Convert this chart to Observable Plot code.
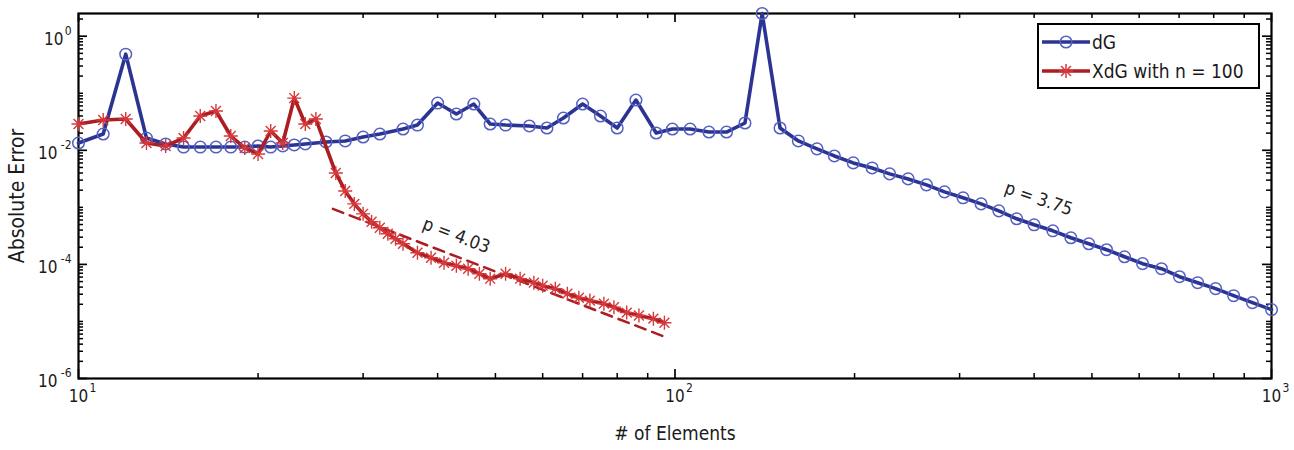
<!DOCTYPE html>
<html><head><meta charset="utf-8">
<script src="https://cdn.jsdelivr.net/npm/d3@7"></script>
<script src="https://cdn.jsdelivr.net/npm/@observablehq/plot@0.6"></script>
<style>
html,body{margin:0;padding:0;background:#fff;}
#chart{position:relative;width:1294px;height:450px;}
</style></head><body><div id="chart"></div>
<script>
// ---- data ----
const dgX = [10,11,12,13,14,15,16,17,18,19,20,21,22,23,24,26,28,30,32,35,37,40,43,46,49,52,57,61,65,70,75,80,86,93,99,106,114,122,131,140,150,161,173,185,199,214,229,246,264,283,304,326,349,374,400,430,461,494,529,567,608,654,701,752,806,864,929,1000];
const dgY = [0.0134,0.0193,0.484,0.0164,0.0129,0.0114,0.0114,0.0114,0.0114,0.0114,0.0119,0.0114,0.0119,0.0124,0.0129,0.014,0.0146,0.0171,0.0193,0.0236,0.0277,0.0673,0.0432,0.0647,0.0289,0.0277,0.0267,0.0246,0.0368,0.0647,0.0399,0.0246,0.076,0.0201,0.0236,0.0236,0.0209,0.0209,0.0301,2.5,0.0246,0.0146,0.0106,0.00796,0.00601,0.00491,0.00386,0.00315,0.00248,0.00187,0.00147,0.00115,0.000869,0.00063,0.000494,0.000388,0.000293,0.00023,0.000181,0.000136,0.000103,0.000084,0.0000608,0.0000478,0.0000376,0.0000283,0.0000214,0.0000161];
const xdgX = [10,11,12,13,14,15,16,17,18,19,20,21,22,23,24,25,27,28,29,30,31,32,33,34,35,37,39,41,43,45,47,49,52,55,58,60,63,66,69,72,76,79,83,87,92,96];
const xdgY = [0.0289,0.034,0.0353,0.0134,0.0119,0.0164,0.0399,0.0488,0.0178,0.011,0.0086,0.0218,0.0134,0.0823,0.0289,0.0353,0.0040,0.00194,0.00115,0.00077,0.00056,0.00044,0.000344,0.000281,0.00023,0.00016,0.000131,0.000107,0.0000948,0.000084,0.0000687,0.0000562,0.0000687,0.0000562,0.0000479,0.0000424,0.0000376,0.0000307,0.0000261,0.0000232,0.0000205,0.0000178,0.0000143,0.0000127,0.0000112,0.0000095];
const fitX = [26.7, 96];
const fitY = [9.4e-4, 5.4e-6];
const xMajor = [10, 100, 1000];
const xExp = ["1", "2", "3"];
const xMinor = [20,30,40,50,60,70,80,90,200,300,400,500,600,700,800,900];
const yMajor = [1e-6, 1e-4, 1e-2, 1];
const yExp = ["-6", "-4", "-2", "0"];
const tickBase = "10";
const yMinorMantissa = [1,2,3,4,5,6,7,8,9];
const yMinorExponents = [-6,-5,-4,-3,-2,-1,0];
const noteText = ["p = 4.03", "p = 3.75"];
const noteX = [43, 407];
const noteY = [3.2e-4, 1.41e-3];
const noteAngle = [21, 19];
const seriesNames = ["dG", "XdG with n = 100"];
const xTitle = "# of Elements";
const yTitle = "Absolute Error";

// ---- build tables ----
const dg = dgX.map((x, i) => ({x, y: dgY[i]}));
const xdg = xdgX.map((x, i) => ({x, y: xdgY[i]}));
const fit = fitX.map((x, i) => ({x, y: fitY[i]}));
const notes = noteText.map((t, i) => ({text: t, x: noteX[i], y: noteY[i], a: noteAngle[i]}));
const yMinor = [];
for (const e of yMinorExponents) for (const m of yMinorMantissa) {
  const v = +(m + "e" + e);
  if (v <= 2.5 && !yMajor.includes(v)) yMinor.push(v);
}
const yZero = yMajor.filter((d, i) => yExp[i].length === 1);
const yNeg = yMajor.filter((d, i) => yExp[i].length > 1);

const W = 1294, H = 450, mL = 78, mR = 23, mT = 13, mB = 72;
const iW = W - mL - mR, iH = H - mT - mB;
const FONT = '"DejaVu Sans Condensed","Liberation Sans Narrow",Roboto,sans-serif';
const blue = "#2b3492", blueM = "#5560c4", red = "#ab1d21", redM = "#d5393b";
const ink = "#1a1a1a";

const star = {
  draw(ctx, size) {
    const r = Math.sqrt(size / Math.PI), d = r * Math.SQRT1_2;
    ctx.moveTo(0, -r); ctx.lineTo(0, r);
    ctx.moveTo(-r, 0); ctx.lineTo(r, 0);
    ctx.moveTo(-d, -d); ctx.lineTo(d, d);
    ctx.moveTo(-d, d); ctx.lineTo(d, -d);
  }
};

const Mj = 9, Mn = 5;
const chart = Plot.plot({
  width: W, height: H,
  marginLeft: mL, marginRight: mR, marginTop: mT, marginBottom: mB,
  style: {fontFamily: FONT, fontSize: "16px", color: ink, background: "#fff"},
  x: {type: "log", domain: [10, 1000], axis: null},
  y: {type: "log", domain: [1e-6, 2.5], axis: null},
  marks: [
    // inward ticks, all four sides
    Plot.tickX(xMajor, {x: d => d, insetTop: iH - Mj, stroke: "#000", strokeWidth: 1.7}),
    Plot.tickX(xMajor, {x: d => d, insetBottom: iH - Mj, stroke: "#000", strokeWidth: 1.7}),
    Plot.tickX(xMinor, {x: d => d, insetTop: iH - Mn, stroke: "#000", strokeWidth: 1.5}),
    Plot.tickX(xMinor, {x: d => d, insetBottom: iH - Mn, stroke: "#000", strokeWidth: 1.5}),
    Plot.tickY(yMajor, {y: d => d, insetRight: iW - Mj, stroke: "#000", strokeWidth: 1.7}),
    Plot.tickY(yMajor, {y: d => d, insetLeft: iW - Mj, stroke: "#000", strokeWidth: 1.7}),
    Plot.tickY(yMinor, {y: d => d, insetRight: iW - Mn, stroke: "#000", strokeWidth: 1.5}),
    Plot.tickY(yMinor, {y: d => d, insetLeft: iW - Mn, stroke: "#000", strokeWidth: 1.5}),
    Plot.frame({stroke: "#000", strokeWidth: 2.2}),
    // x tick labels: 10 with superscript exponent
    Plot.text(xMajor, {x: d => d, frameAnchor: "bottom", lineAnchor: "top", dy: 11, text: () => tickBase, fontSize: 17, fill: ink}),
    Plot.text(xMajor, {x: d => d, frameAnchor: "bottom", lineAnchor: "top", dy: 5, dx: 11, textAnchor: "start",
      text: d => xExp[xMajor.indexOf(d)], fontSize: 12, fill: ink}),
    // y tick labels
    Plot.text(yMajor, {y: d => d, frameAnchor: "left", textAnchor: "end", dx: -7, dy: -5,
      text: d => yExp[yMajor.indexOf(d)], fontSize: 12, fill: ink}),
    Plot.text(yZero, {y: d => d, frameAnchor: "left", textAnchor: "end", dx: -15, dy: 3, text: () => tickBase, fontSize: 17, fill: ink}),
    Plot.text(yNeg, {y: d => d, frameAnchor: "left", textAnchor: "end", dx: -21, dy: 3, text: () => tickBase, fontSize: 17, fill: ink}),
    // axis titles
    Plot.text([xTitle], {frameAnchor: "bottom", textAnchor: "middle", dy: 61, text: d => d, fontSize: 19, fill: ink}),
    Plot.text([yTitle], {frameAnchor: "left", textAnchor: "middle", dx: -61, rotate: -90, text: d => d, fontSize: 21, fill: ink}),
    // dG
    Plot.line(dg, {x: "x", y: "y", stroke: blue, strokeWidth: 3.6}),
    Plot.dot(dg, {x: "x", y: "y", r: 5.8, stroke: blueM, strokeWidth: 1.5, fill: "none"}),
    // XdG
    Plot.line(fit, {x: "x", y: "y", stroke: red, strokeWidth: 2.5, strokeDasharray: "11,7"}),
    Plot.line(xdg, {x: "x", y: "y", stroke: red, strokeWidth: 3.6}),
    Plot.dot(xdg, {x: "x", y: "y", r: 7, symbol: star, stroke: redM, strokeWidth: 1.4, fill: "none"}),
    // slope notes
    Plot.text(notes, {x: "x", y: "y", text: "text", rotate: "a", fontSize: 18, fill: "#222"})
  ]
});
document.getElementById("chart").appendChild(chart);

// ---- legend (inside the axes, top right) ----
const svg = d3.select(chart.tagName.toLowerCase() === "svg" ? chart : chart.querySelector("svg"));
const lg = svg.append("g").attr("font-family", FONT).attr("font-size", 19).attr("text-anchor", "start");
lg.append("rect").attr("x", 1038).attr("y", 24).attr("width", 221).attr("height", 64)
  .attr("fill", "#fff").attr("stroke", "#000").attr("stroke-width", 2);
const entries = [
  {name: seriesNames[0], line: blue, mark: blueM, sym: d3.symbolCircle, size: Math.PI * 5.8 * 5.8, y: 42},
  {name: seriesNames[1], line: red, mark: redM, sym: star, size: Math.PI * 49, y: 71}
];
for (const e of entries) {
  lg.append("line").attr("x1", 1042).attr("x2", 1090).attr("y1", e.y).attr("y2", e.y)
    .attr("stroke", e.line).attr("stroke-width", 3.6);
  lg.append("path").attr("d", d3.symbol(e.sym, e.size)()).attr("transform", `translate(1066,${e.y})`)
    .attr("fill", "none").attr("stroke", e.mark).attr("stroke-width", 1.5);
  lg.append("text").attr("x", 1092).attr("y", e.y).attr("dy", "0.35em").attr("fill", ink).text(e.name);
}
</script></body></html>
